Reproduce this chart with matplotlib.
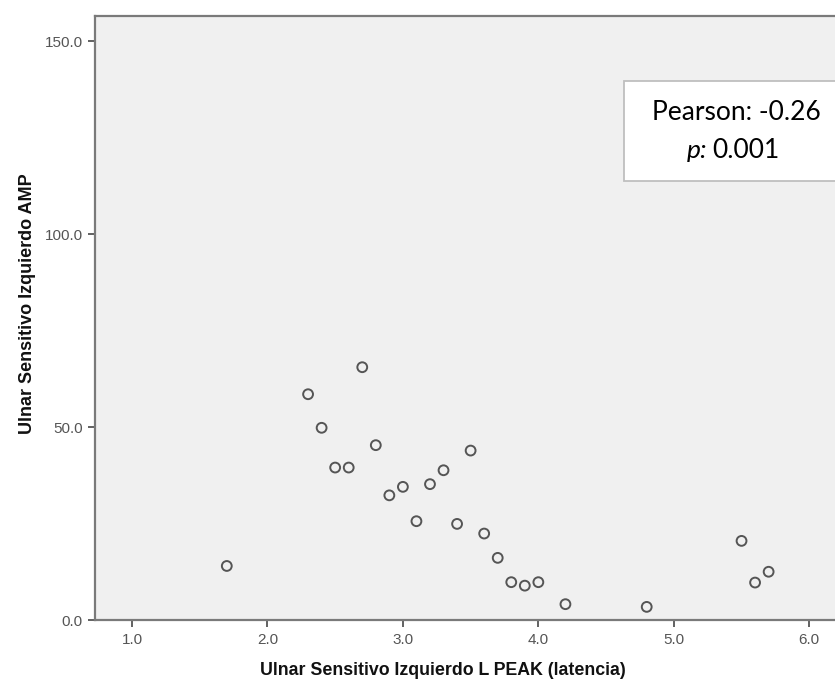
import matplotlib
matplotlib.use("Agg")
import matplotlib.pyplot as plt
from matplotlib.patches import Rectangle

# latency (ms) vs amplitude
latencia = [1.7, 2.3, 2.4, 2.5, 2.6, 2.7, 2.8, 2.9, 3.0, 3.1, 3.2, 3.3,
            3.4, 3.5, 3.6, 3.7, 3.8, 3.9, 4.0, 4.2, 4.8, 5.5, 5.6, 5.7]
amplitud = [14.0, 58.5, 49.8, 39.5, 39.5, 65.5, 45.3, 32.3, 34.5, 25.6, 35.2, 38.8,
            24.9, 43.9, 22.4, 16.1, 9.8, 8.9, 9.8, 4.1, 3.4, 20.5, 9.7, 12.5]

x_ticks = [1.0, 2.0, 3.0, 4.0, 5.0, 6.0]
y_ticks = [0.0, 50.0, 100.0, 150.0]

pearson = "-0.26"
p_value = "0.001"

W, H = 835, 681
fig = plt.figure(figsize=(W / 100, H / 100), dpi=100, facecolor="white")
ax = fig.add_axes([95 / W, 1 - 620 / H, (W - 95) / W, (620 - 16) / H])
ax.set_facecolor("#f0f0f0")

ax.scatter(latencia, amplitud, s=50, facecolors="none", edgecolors="#555555",
           linewidths=1.4, zorder=3)

ax.set_xlim(0.727, 6.19)
ax.set_ylim(0, 156.5)
ax.set_xticks(x_ticks)
ax.set_xticklabels([f"{v:.1f}" for v in x_ticks])
ax.set_yticks(y_ticks)
ax.set_yticklabels([f"{v:.1f}" for v in y_ticks])

for s in ["left", "bottom", "top"]:
    ax.spines[s].set_color("#7a7a7a")
    ax.spines[s].set_linewidth(1.6)
ax.spines["right"].set_visible(False)

ax.tick_params(direction="out", length=5, width=1.3, color="#555555",
               labelcolor="#555555", labelsize=11, pad=4)
for lab in ax.get_xticklabels() + ax.get_yticklabels():
    lab.set_family("Liberation Sans")

ax.set_xlabel("Ulnar Sensitivo Izquierdo L PEAK (latencia)", fontsize=12.8,
              fontweight="bold", family="Liberation Sans", color="#111111")
ax.xaxis.set_label_coords((443 - 95) / (W - 95), -(662 - 620) / (620 - 16))
ax.set_ylabel("Ulnar Sensitivo Izquierdo AMP", fontsize=13,
              fontweight="bold", family="Liberation Sans", color="#111111")
ax.yaxis.set_label_coords(-(95 - 36) / (W - 95), (620 - 304) / (620 - 16))

# stats box (pixel coords -> figure fraction)
bx0, by0, bx1, by1 = 624, 81, 850, 181
box = Rectangle((bx0 / W, 1 - by1 / H), (bx1 - bx0) / W, (by1 - by0) / H,
                transform=fig.transFigure, facecolor="white", edgecolor="#bfbfbf",
                linewidth=1.3, zorder=5)
fig.patches.append(box)
fig.text(736 / W, 1 - 113 / H, f"Pearson: {pearson}", ha="center", va="center",
         fontsize=19, family="Lato", color="black", zorder=6)
fig.text(707 / W, 1 - 150 / H, "p:", ha="right", va="center", style="italic",
         fontsize=19, family="Lato", color="black", zorder=6)
fig.text(712 / W, 1 - 150 / H, p_value, ha="left", va="center",
         fontsize=19, family="Lato", color="black", zorder=6)

fig.savefig("out.png", dpi=100)
